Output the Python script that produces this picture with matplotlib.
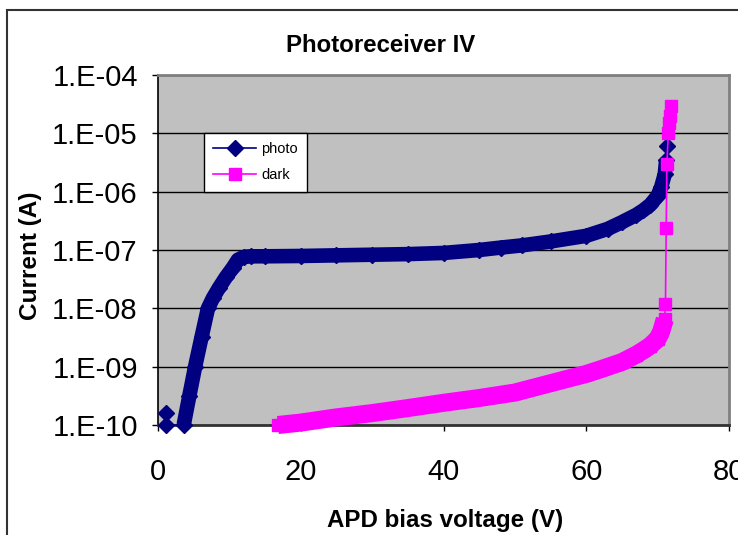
import numpy as np
import matplotlib.pyplot as plt
from matplotlib.patches import Rectangle
from matplotlib.ticker import FixedLocator, FuncFormatter, NullLocator

plt.rcParams['font.family'] = ['Liberation Sans', 'DejaVu Sans']

# photo current vs bias (V, A)
photo_v = [1.1, 1.1, 3.6, 4.4, 5.2, 6.1, 7.0, 7.7, 8.5, 9.5, 10.5, 11.2, 12.0, 13.0,
           15.0, 20.0, 25.0, 30.0, 35.0, 40.0, 45.0, 48.0, 51.0, 55.0, 60.0, 63.0,
           65.0, 67.0, 68.0, 69.0, 70.0, 70.5, 71.0, 71.2, 71.3]
photo_i = [1.6e-10, 1.0e-10, 1.0e-10, 3.2e-10, 1.0e-9, 3.2e-9, 1.0e-8, 1.5e-8, 2.2e-8,
           3.4e-8, 5.0e-8, 6.8e-8, 7.6e-8, 7.8e-8, 7.8e-8, 7.9e-8, 8.1e-8, 8.3e-8,
           8.5e-8, 8.9e-8, 1.0e-7, 1.1e-7, 1.2e-7, 1.4e-7, 1.75e-7, 2.3e-7, 3.0e-7,
           4.0e-7, 4.8e-7, 6.0e-7, 8.5e-7, 1.2e-6, 2.0e-6, 3.5e-6, 6.0e-6]

# dark current vs bias (V, A)
dark_v = [16.8, 20.0, 25.0, 30.0, 35.0, 40.0, 45.0, 50.0, 55.0, 60.0, 62.0, 65.0,
          67.0, 68.0, 69.0, 70.0, 70.5, 71.0, 71.1, 71.2, 71.3, 71.5, 71.6, 71.7, 71.9]
dark_i = [1.0e-10, 1.1e-10, 1.35e-10, 1.6e-10, 1.95e-10, 2.4e-10, 2.9e-10, 3.6e-10,
          5.2e-10, 7.5e-10, 9.0e-10, 1.2e-9, 1.6e-9, 1.9e-9, 2.3e-9, 3.0e-9, 4.0e-9,
          6.5e-9, 1.2e-8, 2.4e-7, 3.0e-6, 1.0e-5, 1.5e-5, 2.0e-5, 3.0e-5]

xticks = [0, 20, 40, 60, 80]
yticks = [1e-10, 1e-9, 1e-8, 1e-7, 1e-6, 1e-5, 1e-4]

navy = '#000080'
pink = '#FF00FF'

fig = plt.figure(figsize=(7.38, 5.35), dpi=100)
ax = fig.add_axes([158/738, 1-425/535, (729-158)/738, (425-75)/535])
ax.set_facecolor('#C0C0C0')

pv, pi = np.array(photo_v), np.array(photo_i)
dv, di = np.array(dark_v), np.array(dark_i)

# dense measurement bands
m = (pi < 4e-6) & (pv > 3)
ax.plot(pv[m], pi[m], color=navy, lw=10.5, solid_capstyle='butt', zorder=3, clip_on=False)
ax.plot(pv, pi, color=navy, lw=1.2, marker='D', ms=8, label='photo', zorder=4, clip_on=False)

m = di < 1e-8
ax.plot(dv[m], di[m], color=pink, lw=13, solid_capstyle='butt', zorder=5, clip_on=False)
ax.plot(dv, di, color=pink, lw=1.2, marker='s', ms=9, label='dark', zorder=6, clip_on=False)

ax.set_yscale('log')
ax.set_xlim(0, 80)
ax.set_ylim(1e-10, 1e-4)
ax.xaxis.set_major_locator(FixedLocator(xticks))
ax.yaxis.set_major_locator(FixedLocator(yticks))
ax.yaxis.set_minor_locator(NullLocator())
ax.yaxis.set_major_formatter(FuncFormatter(lambda v, p: '1.E-%02d' % round(-np.log10(v))))
ax.grid(True, axis='y', color='black', lw=1)
ax.set_axisbelow(True)

ax.tick_params(axis='both', direction='out', length=4.5, width=1, labelsize=21, color='black')
ax.tick_params(axis='y', pad=10)
ax.tick_params(axis='x', pad=19)

for s in ['top', 'right']:
    ax.spines[s].set_color('#808080')
    ax.spines[s].set_linewidth(2)
ax.spines['left'].set_color('black')
ax.spines['left'].set_linewidth(1.2)
ax.spines['bottom'].set_color('#333333')
ax.spines['bottom'].set_linewidth(2)

leg = ax.legend(loc='upper left', bbox_to_anchor=(204/738, 1-133/535),
                bbox_transform=fig.transFigure, fontsize=10.5, frameon=True,
                fancybox=False, edgecolor='black', framealpha=1, borderaxespad=0,
                handlelength=2.9, labelspacing=0.8, borderpad=0.65, handletextpad=0.35)
leg.get_frame().set_linewidth(1)

fig.text(381/738, 1-45/535, 'Photoreceiver IV', ha='center', va='center',
         fontsize=17.3, fontweight='bold')
fig.text(445/738, 1-520/535, 'APD bias voltage (V)', ha='center', va='center',
         fontsize=17.4, fontweight='bold')
fig.text(30/738, 1-256/535, 'Current (A)', ha='center', va='center', rotation=90,
         fontsize=17.6, fontweight='bold')

# chart area border
fig.patches.append(Rectangle((7/738, -0.1), 1.2, 1.1 - 10/535, transform=fig.transFigure,
                             fill=False, edgecolor='#333333', lw=1.5))

fig.savefig('out.png', dpi=100)
